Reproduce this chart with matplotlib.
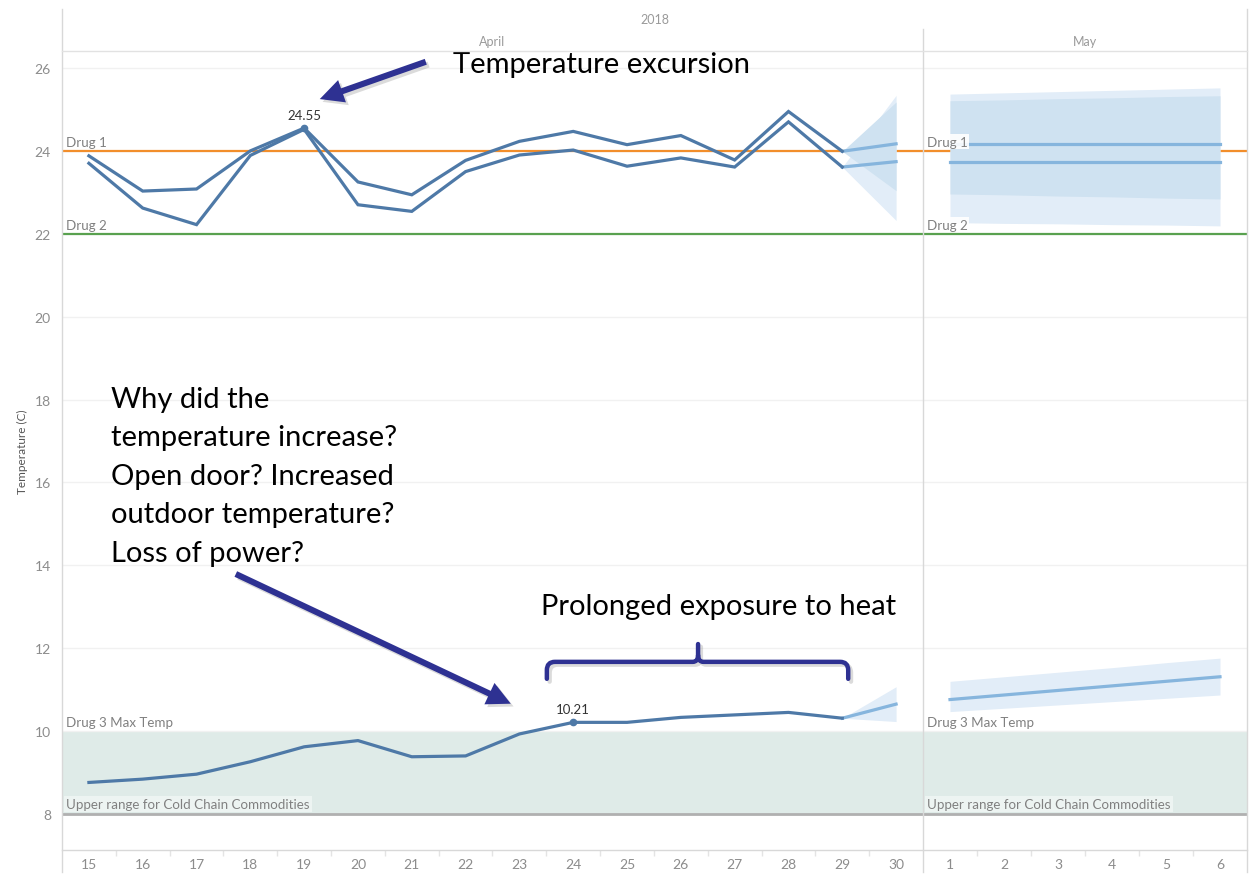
import matplotlib
matplotlib.use("Agg")
import matplotlib.pyplot as plt
import matplotlib.patheffects as pe
from matplotlib.path import Path
from matplotlib.patches import PathPatch
from matplotlib.lines import Line2D

# ---------------- data ----------------
april_days = [15, 16, 17, 18, 19, 20, 21, 22, 23, 24, 25, 26, 27, 28, 29]
sensor_a = [23.88, 23.03, 23.08, 24.00, 24.55, 23.25, 22.94, 23.77, 24.23, 24.47, 24.15, 24.37, 23.78, 24.95, 23.99]
sensor_b = [23.70, 22.62, 22.22, 23.89, 24.52, 22.70, 22.54, 23.50, 23.90, 24.02, 23.63, 23.83, 23.61, 24.70, 23.61]
drug3 = [8.76, 8.84, 8.96, 9.26, 9.62, 9.77, 9.38, 9.40, 9.93, 10.21, 10.21, 10.33, 10.39, 10.45, 10.31]

april_fc_days = [29, 30]
sensor_a_fc_apr = [23.99, 24.17]
sensor_a_fc_apr_lo = [23.99, 23.04]
sensor_a_fc_apr_hi = [23.99, 25.18]
sensor_b_fc_apr = [23.61, 23.74]
sensor_b_fc_apr_lo = [23.61, 22.32]
sensor_b_fc_apr_hi = [23.61, 25.34]
drug3_fc_apr = [10.31, 10.65]
drug3_fc_apr_lo = [10.31, 10.23]
drug3_fc_apr_hi = [10.31, 11.07]

may_days = [1, 2, 3, 4, 5, 6]
sensor_a_fc_may = [24.17, 24.17, 24.17, 24.17, 24.17, 24.17]
sensor_a_fc_may_lo = [22.96, 22.94, 22.91, 22.89, 22.86, 22.84]
sensor_a_fc_may_hi = [25.21, 25.23, 25.26, 25.28, 25.31, 25.33]
sensor_b_fc_may = [23.74, 23.74, 23.74, 23.74, 23.74, 23.74]
sensor_b_fc_may_lo = [22.27, 22.25, 22.24, 22.22, 22.21, 22.19]
sensor_b_fc_may_hi = [25.37, 25.40, 25.43, 25.46, 25.49, 25.52]
drug3_fc_may = [10.76, 10.87, 10.98, 11.09, 11.20, 11.31]
drug3_fc_may_lo = [10.47, 10.55, 10.63, 10.71, 10.79, 10.87]
drug3_fc_may_hi = [11.20, 11.31, 11.42, 11.53, 11.65, 11.76]

drug1_limit = 24
drug2_limit = 22
drug3_max = 10
cold_chain_upper = 8
y_ticks = [8, 10, 12, 14, 16, 18, 20, 22, 24, 26]

year_label = "2018"
month_labels = ["April", "May"]
y_title = "Temperature (C)"
annot_excursion = "Temperature excursion"
annot_question = ["Why did the", "temperature increase?", "Open door? Increased",
                  "outdoor temperature?", "Loss of power?"]
annot_prolonged = "Prolonged exposure to heat"

# ---------------- style ----------------
W, H = 1249, 879
fig = plt.figure(figsize=(W / 100, H / 100), dpi=100)
plt.rcParams["font.family"] = ["Lato", "DejaVu Sans"]

def fx(px):
    return px / W

def fy(py):
    return 1 - py / H

LINE = "#4e79a7"
FC_LINE = "#86b5dd"
BAND_OUT = "#e2edf8"
BAND_IN = "#cfe2f1"
GREY_TXT = "#8c8c8c"
INDIGO = "#2e3192"

ax1 = fig.add_axes([fx(62), fy(851), fx(923) - fx(62), fy(52) - fy(851)])
ax2 = fig.add_axes([fx(923), fy(851), fx(1247) - fx(923), fy(52) - fy(851)])
ylim = (7.13, 26.41)

for ax, days, xl in [(ax1, april_days + [30], (14.5, 30.5)), (ax2, may_days, (0.5, 6.5))]:
    ax.set_xlim(*xl)
    ax.set_ylim(*ylim)
    for s in ax.spines.values():
        s.set_visible(False)
    ax.set_yticks(y_ticks)
    ax.set_xticks(days)
    ax.set_xticks([d + 0.5 for d in days[:-1]], minor=True)
    ax.tick_params(axis="x", which="major", length=0, pad=6, labelsize=10, labelcolor=GREY_TXT)
    ax.tick_params(axis="x", which="minor", length=4, color="#e4e4e4", width=1)
    ax.tick_params(axis="y", length=0, pad=8, labelsize=10, labelcolor=GREY_TXT)
    ax.grid(axis="y", color="#f1f1f1", lw=1)
    ax.set_axisbelow(True)
    ax.axhspan(cold_chain_upper, drug3_max, color="#dfebe8", lw=0, zorder=0.5)
    ax.axhline(drug1_limit, color="#f28e2b", lw=1.6, zorder=1)
    ax.axhline(drug2_limit, color="#59a14f", lw=1.6, zorder=1)
    ax.axhline(cold_chain_upper, color="#b0b0b0", lw=2, zorder=1)

ax2.tick_params(axis="y", labelleft=False)
ax1.set_ylabel(y_title, fontsize=8.5, color="#555555", labelpad=5)

# ---- April actuals
ax1.plot(april_days, sensor_a, color=LINE, lw=2.3, zorder=4, solid_joinstyle="miter")
ax1.plot(april_days, sensor_b, color=LINE, lw=2.3, zorder=4, solid_joinstyle="miter")
ax1.plot(april_days, drug3, color=LINE, lw=2.3, zorder=4)

# ---- April forecast (29 -> 30)
ax1.fill_between(april_fc_days, sensor_b_fc_apr_lo, sensor_b_fc_apr_hi, color=BAND_OUT, lw=0, zorder=2)
ax1.fill_between(april_fc_days, sensor_a_fc_apr_lo, sensor_a_fc_apr_hi, color=BAND_IN, lw=0, zorder=2.1)
ax1.fill_between(april_fc_days, drug3_fc_apr_lo, drug3_fc_apr_hi, color=BAND_OUT, lw=0, zorder=2)
for ser in (sensor_a_fc_apr, sensor_b_fc_apr, drug3_fc_apr):
    ax1.plot(april_fc_days, ser, color=FC_LINE, lw=2.3, zorder=3)

# ---- May forecast
ax2.fill_between(may_days, sensor_b_fc_may_lo, sensor_b_fc_may_hi, color=BAND_OUT, lw=0, zorder=2)
ax2.fill_between(may_days, sensor_a_fc_may_lo, sensor_a_fc_may_hi, color=BAND_IN, lw=0, zorder=2.1)
ax2.fill_between(may_days, drug3_fc_may_lo, drug3_fc_may_hi, color=BAND_OUT, lw=0, zorder=2)
for ser in (sensor_a_fc_may, sensor_b_fc_may, drug3_fc_may):
    ax2.plot(may_days, ser, color=FC_LINE, lw=2.3, zorder=3)

# ---- data labels with marker
i_peak = sensor_a.index(max(sensor_a[:10]))
i_d3 = april_days.index(24)
for xv, yv in [(april_days[i_peak], sensor_a[i_peak]), (april_days[i_d3], drug3[i_d3])]:
    ax1.plot([xv], [yv], "o", color=LINE, ms=4.5, zorder=5)
    ax1.annotate(f"{yv:.2f}", xy=(xv, yv), xytext=(0, 7), textcoords="offset pixels",
                 ha="center", va="bottom", fontsize=9.5, color="#333333", zorder=6)

# ---- reference line labels
for ax in (ax1, ax2):
    bb = dict(boxstyle="square,pad=0.12", fc="white", ec="none", alpha=0.9)
    kw = dict(xycoords=("axes fraction", "data"), textcoords="offset pixels", ha="left",
              va="bottom", fontsize=9.6, color="#808080", zorder=7)
    ax.annotate("Drug 1", xy=(0, drug1_limit), xytext=(4, 3), bbox=bb, **kw)
    ax.annotate("Drug 2", xy=(0, drug2_limit), xytext=(4, 3), bbox=bb, **kw)
    ax.annotate("Drug 3 Max Temp", xy=(0, drug3_max), xytext=(4, 3), **kw)
    ax.annotate("Upper range for Cold Chain Commodities", xy=(0, cold_chain_upper), xytext=(4, 4),
                bbox=dict(boxstyle="square,pad=0.15", fc="white", ec="none", alpha=0.45), **kw)

# ---- frame lines (figure level)
def fline(x0, y0, x1, y1, c="#d8d8d8", lw=1):
    fig.add_artist(Line2D([fx(x0), fx(x1)], [fy(y0), fy(y1)], color=c, lw=lw, zorder=10))

fline(62, 10, 62, 873)
fline(923, 30, 923, 873)
fline(1247, 10, 1247, 873)
fline(62, 52, 1247, 52, c="#e2e2e2")
fline(62, 851, 1247, 851, c="#d8d8d8")

fig.text(fx(655), fy(20), year_label, ha="center", va="center", fontsize=9, color="#9a9a9a")
fig.text(fx(492), fy(42), month_labels[0], ha="center", va="center", fontsize=9, color="#9a9a9a")
fig.text(fx(1085), fy(42), month_labels[1], ha="center", va="center", fontsize=9, color="#9a9a9a")

# ---- annotations
shadow = [pe.SimplePatchShadow(offset=(2, -2), shadow_rgbFace="#888888", alpha=0.3), pe.Normal()]
lshadow = [pe.SimpleLineShadow(offset=(2, -2), shadow_color="#888888", alpha=0.3), pe.Normal()]
AFS = 21

ax1.text(21.77, 25.9, annot_excursion, fontsize=AFS, color="black", ha="left", va="baseline",
         zorder=8, clip_on=False)
arrow_style = "simple,head_length=0.85,head_width=0.85,tail_width=0.22"
ax1.annotate("", xy=(19.29, 25.25), xytext=(21.26, 26.15),
             arrowprops=dict(arrowstyle=arrow_style, mutation_scale=20, color=INDIGO, lw=0,
                             shrinkA=0, shrinkB=0, path_effects=shadow), zorder=8)

for k, line in enumerate(annot_question):
    ax1.annotate(line, xy=(15.41, 17.82), xytext=(0, -38.5 * k), textcoords="offset pixels",
                 fontsize=AFS, color="black", ha="left", va="baseline", zorder=8)
ax1.annotate("", xy=(22.84, 10.66), xytext=(17.73, 13.79),
             arrowprops=dict(arrowstyle=arrow_style, mutation_scale=20, color=INDIGO, lw=0,
                             shrinkA=0, shrinkB=0, path_effects=shadow), zorder=8)

ax1.text(23.40, 12.83, annot_prolonged, fontsize=AFS, color="black", ha="left", va="baseline", zorder=8)

# curly brace
xl_, xr_, xc_ = 23.51, 29.11, 26.32
yb_, yh_, yt_ = 11.26, 11.67, 12.10
rx, ry = 0.15, 0.2
verts = [(xl_, yb_), (xl_, yh_ - ry), (xl_, yh_), (xl_ + rx, yh_), (xc_ - 0.1, yh_),
         (xc_, yh_), (xc_, yh_ + ry * 0.8), (xc_, yt_),
         (xc_, yh_ + ry * 0.8), (xc_, yh_), (xc_ + 0.1, yh_), (xr_ - rx, yh_),
         (xr_, yh_), (xr_, yh_ - ry), (xr_, yb_)]
codes = [Path.MOVETO, Path.LINETO, Path.CURVE3, Path.CURVE3, Path.LINETO,
         Path.CURVE3, Path.CURVE3, Path.LINETO,
         Path.MOVETO, Path.CURVE3, Path.CURVE3, Path.LINETO,
         Path.CURVE3, Path.CURVE3, Path.LINETO]
brace = PathPatch(Path(verts, codes), fc="none", ec=INDIGO, lw=3.2, capstyle="round",
                  joinstyle="round", zorder=8, path_effects=lshadow)
ax1.add_patch(brace)

fig.savefig("out.png", dpi=100, facecolor="white")
